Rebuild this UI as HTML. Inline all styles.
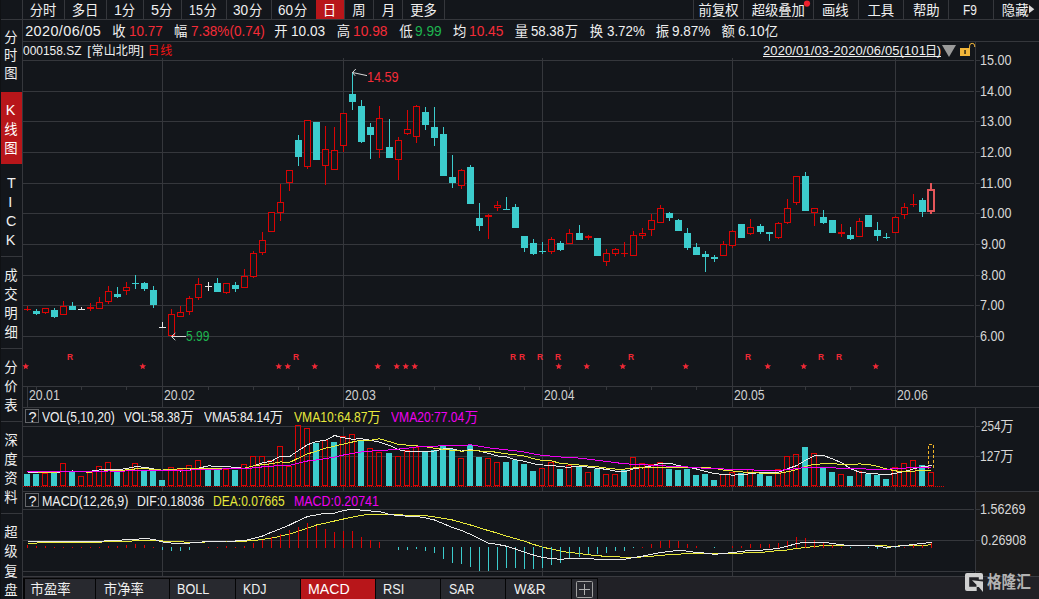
<!DOCTYPE html>
<html lang="zh"><head><meta charset="utf-8"><title>000158.SZ</title>
<style>html,body{margin:0;padding:0;background:#13161b;}
body{width:1039px;height:599px;position:relative;overflow:hidden;font-family:"Liberation Sans","Noto Sans CJK SC",sans-serif;}
#c{position:absolute;left:0;top:0;}
.t{position:absolute;white-space:pre;line-height:1;}
.g{position:absolute;overflow:visible;}</style></head><body>
<svg id="c" width="1039" height="599" viewBox="0 0 1039 599" shape-rendering="crispEdges">
<rect x="0" y="0" width="1" height="599" fill="#0f1114"/>
<rect x="976" y="492" width="63" height="84" fill="#1a1a1b"/>
<rect x="23" y="577" width="1016" height="22" fill="#212126"/>
<rect x="23" y="578" width="575" height="21" fill="#050506"/>
<rect x="1" y="92" width="21" height="72" fill="#b8161a"/>
<rect x="316" y="0" width="28" height="19" fill="#b8161a"/>
<rect x="1" y="19" width="1038" height="1" fill="#35373c"/>
<rect x="22" y="0" width="1" height="599" fill="#35373c"/>
<rect x="23" y="41" width="1016" height="1" fill="#35373c"/>
<rect x="1" y="256" width="21" height="1" fill="#35373c"/>
<rect x="1" y="348" width="21" height="1" fill="#35373c"/>
<rect x="1" y="421" width="21" height="1" fill="#35373c"/>
<rect x="1" y="513" width="21" height="1" fill="#35373c"/>
<rect x="64" y="0" width="1" height="19" fill="#35373c"/>
<rect x="106" y="0" width="1" height="19" fill="#35373c"/>
<rect x="143" y="0" width="1" height="19" fill="#35373c"/>
<rect x="181" y="0" width="1" height="19" fill="#35373c"/>
<rect x="226" y="0" width="1" height="19" fill="#35373c"/>
<rect x="271" y="0" width="1" height="19" fill="#35373c"/>
<rect x="344" y="0" width="1" height="19" fill="#35373c"/>
<rect x="373" y="0" width="1" height="19" fill="#35373c"/>
<rect x="402" y="0" width="1" height="19" fill="#35373c"/>
<rect x="444" y="0" width="1" height="19" fill="#35373c"/>
<rect x="693" y="0" width="1" height="19" fill="#35373c"/>
<rect x="743" y="0" width="1" height="19" fill="#35373c"/>
<rect x="813" y="0" width="1" height="19" fill="#35373c"/>
<rect x="858" y="0" width="1" height="19" fill="#35373c"/>
<rect x="903" y="0" width="1" height="19" fill="#35373c"/>
<rect x="948" y="0" width="1" height="19" fill="#35373c"/>
<rect x="993" y="0" width="1" height="19" fill="#35373c"/>
<rect x="23" y="60" width="951" height="1" fill="#35373c"/>
<rect x="976" y="60" width="4" height="1" fill="#35373c"/>
<rect x="23" y="91" width="951" height="1" fill="#35373c"/>
<rect x="976" y="91" width="4" height="1" fill="#35373c"/>
<rect x="23" y="121" width="951" height="1" fill="#35373c"/>
<rect x="976" y="121" width="4" height="1" fill="#35373c"/>
<rect x="23" y="152" width="951" height="1" fill="#35373c"/>
<rect x="976" y="152" width="4" height="1" fill="#35373c"/>
<rect x="23" y="183" width="951" height="1" fill="#35373c"/>
<rect x="976" y="183" width="4" height="1" fill="#35373c"/>
<rect x="23" y="213" width="951" height="1" fill="#35373c"/>
<rect x="976" y="213" width="4" height="1" fill="#35373c"/>
<rect x="23" y="244" width="951" height="1" fill="#35373c"/>
<rect x="976" y="244" width="4" height="1" fill="#35373c"/>
<rect x="23" y="275" width="951" height="1" fill="#35373c"/>
<rect x="976" y="275" width="4" height="1" fill="#35373c"/>
<rect x="23" y="305" width="951" height="1" fill="#35373c"/>
<rect x="976" y="305" width="4" height="1" fill="#35373c"/>
<rect x="23" y="336" width="951" height="1" fill="#35373c"/>
<rect x="976" y="336" width="4" height="1" fill="#35373c"/>
<rect x="162" y="58" width="1" height="328" fill="#35373c"/>
<rect x="162" y="386" width="1" height="21" fill="#35373c"/>
<rect x="162" y="426" width="1" height="65" fill="#35373c"/>
<rect x="162" y="509" width="1" height="67" fill="#35373c"/>
<rect x="343" y="58" width="1" height="328" fill="#35373c"/>
<rect x="343" y="386" width="1" height="21" fill="#35373c"/>
<rect x="343" y="426" width="1" height="65" fill="#35373c"/>
<rect x="343" y="509" width="1" height="67" fill="#35373c"/>
<rect x="542" y="58" width="1" height="328" fill="#35373c"/>
<rect x="542" y="386" width="1" height="21" fill="#35373c"/>
<rect x="542" y="426" width="1" height="65" fill="#35373c"/>
<rect x="542" y="509" width="1" height="67" fill="#35373c"/>
<rect x="732" y="58" width="1" height="328" fill="#35373c"/>
<rect x="732" y="386" width="1" height="21" fill="#35373c"/>
<rect x="732" y="426" width="1" height="65" fill="#35373c"/>
<rect x="732" y="509" width="1" height="67" fill="#35373c"/>
<rect x="895" y="58" width="1" height="328" fill="#35373c"/>
<rect x="895" y="386" width="1" height="21" fill="#35373c"/>
<rect x="895" y="426" width="1" height="65" fill="#35373c"/>
<rect x="895" y="509" width="1" height="67" fill="#35373c"/>
<rect x="975" y="41" width="1" height="345" fill="#35373c"/>
<rect x="23" y="386" width="1016" height="1" fill="#35373c"/>
<rect x="23" y="407" width="1016" height="1" fill="#35373c"/>
<rect x="975" y="407" width="1" height="169" fill="#35373c"/>
<rect x="23" y="426" width="951" height="1" fill="#35373c"/>
<rect x="976" y="426" width="4" height="1" fill="#35373c"/>
<rect x="23" y="456" width="951" height="1" fill="#35373c"/>
<rect x="976" y="456" width="4" height="1" fill="#35373c"/>
<rect x="23" y="491" width="1016" height="1" fill="#35373c"/>
<rect x="23" y="509" width="951" height="1" fill="#35373c"/>
<rect x="976" y="509" width="4" height="1" fill="#35373c"/>
<rect x="23" y="540" width="951" height="1" fill="#35373c"/>
<rect x="976" y="540" width="4" height="1" fill="#35373c"/>
<rect x="23" y="571" width="951" height="1" fill="#35373c"/>
<rect x="976" y="571" width="4" height="1" fill="#35373c"/>
<rect x="23" y="576" width="1016" height="1" fill="#3a3b40"/>
<rect x="27" y="386" width="1" height="21" fill="#35373c"/>
<rect x="36" y="386" width="1" height="4" fill="#35373c"/>
<rect x="81" y="386" width="1" height="4" fill="#35373c"/>
<rect x="126" y="386" width="1" height="4" fill="#35373c"/>
<rect x="208" y="386" width="1" height="4" fill="#35373c"/>
<rect x="253" y="386" width="1" height="4" fill="#35373c"/>
<rect x="298" y="386" width="1" height="4" fill="#35373c"/>
<rect x="389" y="386" width="1" height="4" fill="#35373c"/>
<rect x="434" y="386" width="1" height="4" fill="#35373c"/>
<rect x="479" y="386" width="1" height="4" fill="#35373c"/>
<rect x="524" y="386" width="1" height="4" fill="#35373c"/>
<rect x="569" y="386" width="1" height="4" fill="#35373c"/>
<rect x="606" y="386" width="1" height="4" fill="#35373c"/>
<rect x="651" y="386" width="1" height="4" fill="#35373c"/>
<rect x="696" y="386" width="1" height="4" fill="#35373c"/>
<rect x="760" y="386" width="1" height="4" fill="#35373c"/>
<rect x="805" y="386" width="1" height="4" fill="#35373c"/>
<rect x="850" y="386" width="1" height="4" fill="#35373c"/>
<rect x="27" y="306" width="1" height="5" fill="#da0404"/>
<rect x="24" y="309" width="7" height="1" fill="#da0404"/>
<rect x="36" y="309" width="1" height="6" fill="#3ccccd"/>
<rect x="33" y="311" width="7" height="3" fill="#3ccccd"/>
<rect x="45" y="313" width="1" height="1" fill="#da0404"/>
<rect x="42.5" y="308.5" width="6" height="4" fill="#13161b" stroke="#da0404" stroke-width="1"/>
<rect x="54" y="308" width="1" height="10" fill="#3ccccd"/>
<rect x="51" y="310" width="7" height="7" fill="#3ccccd"/>
<rect x="63" y="301" width="1" height="5" fill="#da0404"/>
<rect x="60.5" y="306.5" width="6" height="8" fill="#13161b" stroke="#da0404" stroke-width="1"/>
<rect x="72" y="302" width="1" height="8" fill="#3ccccd"/>
<rect x="69" y="306" width="7" height="4" fill="#3ccccd"/>
<rect x="81" y="307" width="1" height="3" fill="#e8e8e8"/>
<rect x="78" y="309" width="7" height="1" fill="#e8e8e8"/>
<rect x="90" y="303" width="1" height="8" fill="#da0404"/>
<rect x="87" y="307" width="7" height="2" fill="#da0404"/>
<rect x="99" y="297" width="1" height="5" fill="#da0404"/>
<rect x="96.5" y="302.5" width="6" height="6" fill="#13161b" stroke="#da0404" stroke-width="1"/>
<rect x="108" y="286" width="1" height="5" fill="#da0404"/>
<rect x="108" y="302" width="1" height="2" fill="#da0404"/>
<rect x="105.5" y="291.5" width="6" height="10" fill="#13161b" stroke="#da0404" stroke-width="1"/>
<rect x="117" y="287" width="1" height="11" fill="#3ccccd"/>
<rect x="114" y="294" width="7" height="3" fill="#3ccccd"/>
<rect x="126" y="282" width="1" height="5" fill="#da0404"/>
<rect x="126" y="291" width="1" height="4" fill="#da0404"/>
<rect x="123.5" y="287.5" width="6" height="3" fill="#13161b" stroke="#da0404" stroke-width="1"/>
<rect x="135" y="275" width="1" height="14" fill="#3ccccd"/>
<rect x="132" y="283" width="7" height="1" fill="#3ccccd"/>
<rect x="144" y="282" width="1" height="9" fill="#3ccccd"/>
<rect x="141" y="283" width="7" height="6" fill="#3ccccd"/>
<rect x="153" y="286" width="1" height="22" fill="#3ccccd"/>
<rect x="150" y="290" width="7" height="15" fill="#3ccccd"/>
<rect x="162" y="322" width="1" height="6" fill="#e8e8e8"/>
<rect x="159" y="327" width="7" height="1" fill="#e8e8e8"/>
<rect x="171" y="309" width="1" height="5" fill="#da0404"/>
<rect x="168.5" y="314.5" width="6" height="21" fill="#13161b" stroke="#da0404" stroke-width="1"/>
<rect x="180" y="306" width="1" height="6" fill="#da0404"/>
<rect x="177.5" y="312.5" width="6" height="4" fill="#13161b" stroke="#da0404" stroke-width="1"/>
<rect x="189" y="296" width="1" height="2" fill="#da0404"/>
<rect x="189" y="312" width="1" height="3" fill="#da0404"/>
<rect x="186.5" y="298.5" width="6" height="13" fill="#13161b" stroke="#da0404" stroke-width="1"/>
<rect x="198" y="278" width="1" height="6" fill="#da0404"/>
<rect x="198" y="298" width="1" height="2" fill="#da0404"/>
<rect x="195.5" y="284.5" width="6" height="13" fill="#13161b" stroke="#da0404" stroke-width="1"/>
<rect x="208" y="282" width="1" height="9" fill="#e8e8e8"/>
<rect x="205" y="286" width="7" height="1" fill="#e8e8e8"/>
<rect x="217" y="278" width="1" height="14" fill="#3ccccd"/>
<rect x="214" y="283" width="7" height="9" fill="#3ccccd"/>
<rect x="226" y="293" width="1" height="1" fill="#da0404"/>
<rect x="223.5" y="283.5" width="6" height="9" fill="#13161b" stroke="#da0404" stroke-width="1"/>
<rect x="235" y="282" width="1" height="10" fill="#3ccccd"/>
<rect x="232" y="285" width="7" height="4" fill="#3ccccd"/>
<rect x="244" y="269" width="1" height="7" fill="#da0404"/>
<rect x="241.5" y="276.5" width="6" height="11" fill="#13161b" stroke="#da0404" stroke-width="1"/>
<rect x="253" y="251" width="1" height="2" fill="#da0404"/>
<rect x="253" y="277" width="1" height="1" fill="#da0404"/>
<rect x="250.5" y="253.5" width="6" height="23" fill="#13161b" stroke="#da0404" stroke-width="1"/>
<rect x="262" y="232" width="1" height="8" fill="#da0404"/>
<rect x="262" y="253" width="1" height="2" fill="#da0404"/>
<rect x="259.5" y="240.5" width="6" height="12" fill="#13161b" stroke="#da0404" stroke-width="1"/>
<rect x="268.5" y="212.5" width="6" height="19" fill="#13161b" stroke="#da0404" stroke-width="1"/>
<rect x="280" y="184" width="1" height="18" fill="#da0404"/>
<rect x="280" y="213" width="1" height="8" fill="#da0404"/>
<rect x="277.5" y="202.5" width="6" height="10" fill="#13161b" stroke="#da0404" stroke-width="1"/>
<rect x="289" y="183" width="1" height="8" fill="#da0404"/>
<rect x="286.5" y="170.5" width="6" height="12" fill="#13161b" stroke="#da0404" stroke-width="1"/>
<rect x="298" y="135" width="1" height="31" fill="#3ccccd"/>
<rect x="295" y="140" width="7" height="17" fill="#3ccccd"/>
<rect x="307" y="167" width="1" height="2" fill="#da0404"/>
<rect x="304.5" y="120.5" width="6" height="46" fill="#13161b" stroke="#da0404" stroke-width="1"/>
<rect x="316" y="122" width="1" height="38" fill="#3ccccd"/>
<rect x="313" y="122" width="7" height="38" fill="#3ccccd"/>
<rect x="325" y="126" width="1" height="23" fill="#da0404"/>
<rect x="325" y="166" width="1" height="19" fill="#da0404"/>
<rect x="322.5" y="149.5" width="6" height="16" fill="#13161b" stroke="#da0404" stroke-width="1"/>
<rect x="334" y="127" width="1" height="23" fill="#da0404"/>
<rect x="331.5" y="150.5" width="6" height="19" fill="#13161b" stroke="#da0404" stroke-width="1"/>
<rect x="343" y="146" width="1" height="6" fill="#da0404"/>
<rect x="340.5" y="113.5" width="6" height="32" fill="#13161b" stroke="#da0404" stroke-width="1"/>
<rect x="352" y="72" width="1" height="38" fill="#3ccccd"/>
<rect x="349" y="94" width="7" height="8" fill="#3ccccd"/>
<rect x="361" y="100" width="1" height="43" fill="#3ccccd"/>
<rect x="358" y="106" width="7" height="36" fill="#3ccccd"/>
<rect x="370" y="123" width="1" height="36" fill="#3ccccd"/>
<rect x="367" y="127" width="7" height="8" fill="#3ccccd"/>
<rect x="379" y="106" width="1" height="12" fill="#da0404"/>
<rect x="379" y="150" width="1" height="8" fill="#da0404"/>
<rect x="376.5" y="118.5" width="6" height="31" fill="#13161b" stroke="#da0404" stroke-width="1"/>
<rect x="389" y="119" width="1" height="39" fill="#3ccccd"/>
<rect x="386" y="147" width="7" height="11" fill="#3ccccd"/>
<rect x="398" y="137" width="1" height="3" fill="#da0404"/>
<rect x="398" y="160" width="1" height="20" fill="#da0404"/>
<rect x="395.5" y="140.5" width="6" height="19" fill="#13161b" stroke="#da0404" stroke-width="1"/>
<rect x="407" y="110" width="1" height="19" fill="#da0404"/>
<rect x="407" y="134" width="1" height="1" fill="#da0404"/>
<rect x="404.5" y="129.5" width="6" height="4" fill="#13161b" stroke="#da0404" stroke-width="1"/>
<rect x="416" y="105" width="1" height="1" fill="#da0404"/>
<rect x="416" y="137" width="1" height="6" fill="#da0404"/>
<rect x="413.5" y="106.5" width="6" height="30" fill="#13161b" stroke="#da0404" stroke-width="1"/>
<rect x="425" y="107" width="1" height="23" fill="#3ccccd"/>
<rect x="422" y="112" width="7" height="13" fill="#3ccccd"/>
<rect x="434" y="107" width="1" height="39" fill="#3ccccd"/>
<rect x="431" y="127" width="7" height="11" fill="#3ccccd"/>
<rect x="443" y="127" width="1" height="49" fill="#3ccccd"/>
<rect x="440" y="134" width="7" height="42" fill="#3ccccd"/>
<rect x="452" y="155" width="1" height="33" fill="#3ccccd"/>
<rect x="449" y="177" width="7" height="6" fill="#3ccccd"/>
<rect x="461" y="169" width="1" height="1" fill="#da0404"/>
<rect x="461" y="186" width="1" height="3" fill="#da0404"/>
<rect x="458.5" y="170.5" width="6" height="15" fill="#13161b" stroke="#da0404" stroke-width="1"/>
<rect x="470" y="165" width="1" height="39" fill="#3ccccd"/>
<rect x="467" y="167" width="7" height="37" fill="#3ccccd"/>
<rect x="479" y="203" width="1" height="28" fill="#3ccccd"/>
<rect x="476" y="218" width="7" height="8" fill="#3ccccd"/>
<rect x="488" y="214" width="1" height="25" fill="#da0404"/>
<rect x="485" y="215" width="7" height="2" fill="#da0404"/>
<rect x="497" y="201" width="1" height="4" fill="#da0404"/>
<rect x="497" y="208" width="1" height="3" fill="#da0404"/>
<rect x="494.5" y="205.5" width="6" height="2" fill="#13161b" stroke="#da0404" stroke-width="1"/>
<rect x="506" y="197" width="1" height="13" fill="#3ccccd"/>
<rect x="503" y="209" width="7" height="1" fill="#3ccccd"/>
<rect x="515" y="204" width="1" height="24" fill="#3ccccd"/>
<rect x="512" y="207" width="7" height="21" fill="#3ccccd"/>
<rect x="524" y="236" width="1" height="16" fill="#3ccccd"/>
<rect x="521" y="236" width="7" height="12" fill="#3ccccd"/>
<rect x="533" y="239" width="1" height="16" fill="#3ccccd"/>
<rect x="530" y="243" width="7" height="11" fill="#3ccccd"/>
<rect x="542" y="242" width="1" height="12" fill="#3ccccd"/>
<rect x="539" y="251" width="7" height="1" fill="#3ccccd"/>
<rect x="551" y="237" width="1" height="2" fill="#da0404"/>
<rect x="551" y="252" width="1" height="2" fill="#da0404"/>
<rect x="548.5" y="239.5" width="6" height="12" fill="#13161b" stroke="#da0404" stroke-width="1"/>
<rect x="560" y="241" width="1" height="10" fill="#3ccccd"/>
<rect x="557" y="243" width="7" height="7" fill="#3ccccd"/>
<rect x="569" y="229" width="1" height="4" fill="#da0404"/>
<rect x="566.5" y="233.5" width="6" height="10" fill="#13161b" stroke="#da0404" stroke-width="1"/>
<rect x="579" y="225" width="1" height="15" fill="#3ccccd"/>
<rect x="576" y="233" width="7" height="7" fill="#3ccccd"/>
<rect x="588" y="235" width="1" height="5" fill="#da0404"/>
<rect x="585" y="236" width="7" height="2" fill="#da0404"/>
<rect x="597" y="238" width="1" height="18" fill="#3ccccd"/>
<rect x="594" y="238" width="7" height="18" fill="#3ccccd"/>
<rect x="606" y="249" width="1" height="4" fill="#da0404"/>
<rect x="606" y="262" width="1" height="4" fill="#da0404"/>
<rect x="603.5" y="253.5" width="6" height="8" fill="#13161b" stroke="#da0404" stroke-width="1"/>
<rect x="615" y="248" width="1" height="1" fill="#da0404"/>
<rect x="615" y="254" width="1" height="2" fill="#da0404"/>
<rect x="612.5" y="249.5" width="6" height="4" fill="#13161b" stroke="#da0404" stroke-width="1"/>
<rect x="624" y="242" width="1" height="15" fill="#da0404"/>
<rect x="621" y="253" width="7" height="1" fill="#da0404"/>
<rect x="633" y="231" width="1" height="4" fill="#da0404"/>
<rect x="630.5" y="235.5" width="6" height="20" fill="#13161b" stroke="#da0404" stroke-width="1"/>
<rect x="642" y="228" width="1" height="5" fill="#da0404"/>
<rect x="642" y="236" width="1" height="3" fill="#da0404"/>
<rect x="639.5" y="233.5" width="6" height="2" fill="#13161b" stroke="#da0404" stroke-width="1"/>
<rect x="651" y="214" width="1" height="6" fill="#da0404"/>
<rect x="651" y="230" width="1" height="6" fill="#da0404"/>
<rect x="648.5" y="220.5" width="6" height="9" fill="#13161b" stroke="#da0404" stroke-width="1"/>
<rect x="660" y="205" width="1" height="3" fill="#da0404"/>
<rect x="657.5" y="208.5" width="6" height="14" fill="#13161b" stroke="#da0404" stroke-width="1"/>
<rect x="669" y="212" width="1" height="9" fill="#3ccccd"/>
<rect x="666" y="213" width="7" height="5" fill="#3ccccd"/>
<rect x="678" y="219" width="1" height="12" fill="#3ccccd"/>
<rect x="675" y="220" width="7" height="11" fill="#3ccccd"/>
<rect x="687" y="228" width="1" height="22" fill="#3ccccd"/>
<rect x="684" y="233" width="7" height="15" fill="#3ccccd"/>
<rect x="696" y="243" width="1" height="12" fill="#3ccccd"/>
<rect x="693" y="247" width="7" height="8" fill="#3ccccd"/>
<rect x="705" y="251" width="1" height="21" fill="#3ccccd"/>
<rect x="702" y="254" width="7" height="3" fill="#3ccccd"/>
<rect x="714" y="255" width="1" height="7" fill="#3ccccd"/>
<rect x="711" y="257" width="7" height="2" fill="#3ccccd"/>
<rect x="723" y="241" width="1" height="3" fill="#da0404"/>
<rect x="720.5" y="244.5" width="6" height="11" fill="#13161b" stroke="#da0404" stroke-width="1"/>
<rect x="732" y="230" width="1" height="1" fill="#da0404"/>
<rect x="732" y="246" width="1" height="2" fill="#da0404"/>
<rect x="729.5" y="231.5" width="6" height="14" fill="#13161b" stroke="#da0404" stroke-width="1"/>
<rect x="741" y="224" width="1" height="14" fill="#3ccccd"/>
<rect x="738" y="224" width="7" height="14" fill="#3ccccd"/>
<rect x="750" y="219" width="1" height="8" fill="#da0404"/>
<rect x="750" y="234" width="1" height="1" fill="#da0404"/>
<rect x="747.5" y="227.5" width="6" height="6" fill="#13161b" stroke="#da0404" stroke-width="1"/>
<rect x="760" y="224" width="1" height="10" fill="#3ccccd"/>
<rect x="757" y="226" width="7" height="6" fill="#3ccccd"/>
<rect x="769" y="232" width="1" height="9" fill="#3ccccd"/>
<rect x="766" y="232" width="7" height="2" fill="#3ccccd"/>
<rect x="778" y="222" width="1" height="1" fill="#da0404"/>
<rect x="778" y="238" width="1" height="1" fill="#da0404"/>
<rect x="775.5" y="223.5" width="6" height="14" fill="#13161b" stroke="#da0404" stroke-width="1"/>
<rect x="787" y="199" width="1" height="9" fill="#da0404"/>
<rect x="787" y="223" width="1" height="1" fill="#da0404"/>
<rect x="784.5" y="208.5" width="6" height="14" fill="#13161b" stroke="#da0404" stroke-width="1"/>
<rect x="796" y="203" width="1" height="2" fill="#da0404"/>
<rect x="793.5" y="176.5" width="6" height="26" fill="#13161b" stroke="#da0404" stroke-width="1"/>
<rect x="805" y="172" width="1" height="39" fill="#3ccccd"/>
<rect x="802" y="176" width="7" height="35" fill="#3ccccd"/>
<rect x="814" y="213" width="1" height="13" fill="#da0404"/>
<rect x="811.5" y="208.5" width="6" height="4" fill="#13161b" stroke="#da0404" stroke-width="1"/>
<rect x="823" y="210" width="1" height="14" fill="#3ccccd"/>
<rect x="820" y="217" width="7" height="6" fill="#3ccccd"/>
<rect x="832" y="220" width="1" height="13" fill="#3ccccd"/>
<rect x="829" y="220" width="7" height="13" fill="#3ccccd"/>
<rect x="841" y="224" width="1" height="13" fill="#da0404"/>
<rect x="838" y="232" width="7" height="2" fill="#da0404"/>
<rect x="850" y="227" width="1" height="13" fill="#3ccccd"/>
<rect x="847" y="235" width="7" height="4" fill="#3ccccd"/>
<rect x="859" y="218" width="1" height="3" fill="#da0404"/>
<rect x="856.5" y="221.5" width="6" height="15" fill="#13161b" stroke="#da0404" stroke-width="1"/>
<rect x="868" y="215" width="1" height="12" fill="#3ccccd"/>
<rect x="865" y="215" width="7" height="12" fill="#3ccccd"/>
<rect x="877" y="222" width="1" height="19" fill="#3ccccd"/>
<rect x="874" y="230" width="7" height="6" fill="#3ccccd"/>
<rect x="886" y="233" width="1" height="6" fill="#3ccccd"/>
<rect x="883" y="237" width="7" height="1" fill="#3ccccd"/>
<rect x="895" y="216" width="1" height="1" fill="#da0404"/>
<rect x="892.5" y="217.5" width="6" height="15" fill="#13161b" stroke="#da0404" stroke-width="1"/>
<rect x="904" y="203" width="1" height="4" fill="#da0404"/>
<rect x="904" y="215" width="1" height="4" fill="#da0404"/>
<rect x="901.5" y="207.5" width="6" height="7" fill="#13161b" stroke="#da0404" stroke-width="1"/>
<rect x="913" y="194" width="1" height="13" fill="#da0404"/>
<rect x="910" y="204" width="7" height="1" fill="#da0404"/>
<rect x="922" y="198" width="1" height="19" fill="#3ccccd"/>
<rect x="919" y="200" width="7" height="12" fill="#3ccccd"/>
<rect x="930" y="183" width="2" height="6" fill="#e4565a"/>
<rect x="930" y="212" width="2" height="2" fill="#e4565a"/>
<rect x="928" y="190" width="6" height="21" fill="#13161b" stroke="#e4565a" stroke-width="2"/>
<polygon points="25.75,362.90 26.68,365.13 29.08,365.32 27.25,366.89 27.81,369.23 25.75,367.97 23.69,369.23 24.25,366.89 22.42,365.32 24.82,365.13" fill="#f02835" shape-rendering="geometricPrecision"/>
<polygon points="142.75,362.90 143.68,365.13 146.08,365.32 144.25,366.89 144.81,369.23 142.75,367.97 140.69,369.23 141.25,366.89 139.42,365.32 141.82,365.13" fill="#f02835" shape-rendering="geometricPrecision"/>
<polygon points="278.75,362.90 279.68,365.13 282.08,365.32 280.25,366.89 280.81,369.23 278.75,367.97 276.69,369.23 277.25,366.89 275.42,365.32 277.82,365.13" fill="#f02835" shape-rendering="geometricPrecision"/>
<polygon points="287.75,362.90 288.68,365.13 291.08,365.32 289.25,366.89 289.81,369.23 287.75,367.97 285.69,369.23 286.25,366.89 284.42,365.32 286.82,365.13" fill="#f02835" shape-rendering="geometricPrecision"/>
<polygon points="314.75,362.90 315.68,365.13 318.08,365.32 316.25,366.89 316.81,369.23 314.75,367.97 312.69,369.23 313.25,366.89 311.42,365.32 313.82,365.13" fill="#f02835" shape-rendering="geometricPrecision"/>
<polygon points="377.75,362.90 378.68,365.13 381.08,365.32 379.25,366.89 379.81,369.23 377.75,367.97 375.69,369.23 376.25,366.89 374.42,365.32 376.82,365.13" fill="#f02835" shape-rendering="geometricPrecision"/>
<polygon points="396.75,362.90 397.68,365.13 400.08,365.32 398.25,366.89 398.81,369.23 396.75,367.97 394.69,369.23 395.25,366.89 393.42,365.32 395.82,365.13" fill="#f02835" shape-rendering="geometricPrecision"/>
<polygon points="405.75,362.90 406.68,365.13 409.08,365.32 407.25,366.89 407.81,369.23 405.75,367.97 403.69,369.23 404.25,366.89 402.42,365.32 404.82,365.13" fill="#f02835" shape-rendering="geometricPrecision"/>
<polygon points="414.75,362.90 415.68,365.13 418.08,365.32 416.25,366.89 416.81,369.23 414.75,367.97 412.69,369.23 413.25,366.89 411.42,365.32 413.82,365.13" fill="#f02835" shape-rendering="geometricPrecision"/>
<polygon points="558.75,362.90 559.68,365.13 562.08,365.32 560.25,366.89 560.81,369.23 558.75,367.97 556.69,369.23 557.25,366.89 555.42,365.32 557.82,365.13" fill="#f02835" shape-rendering="geometricPrecision"/>
<polygon points="586.75,362.90 587.68,365.13 590.08,365.32 588.25,366.89 588.81,369.23 586.75,367.97 584.69,369.23 585.25,366.89 583.42,365.32 585.82,365.13" fill="#f02835" shape-rendering="geometricPrecision"/>
<polygon points="622.75,362.90 623.68,365.13 626.08,365.32 624.25,366.89 624.81,369.23 622.75,367.97 620.69,369.23 621.25,366.89 619.42,365.32 621.82,365.13" fill="#f02835" shape-rendering="geometricPrecision"/>
<polygon points="685.75,362.90 686.68,365.13 689.08,365.32 687.25,366.89 687.81,369.23 685.75,367.97 683.69,369.23 684.25,366.89 682.42,365.32 684.82,365.13" fill="#f02835" shape-rendering="geometricPrecision"/>
<polygon points="767.75,362.90 768.68,365.13 771.08,365.32 769.25,366.89 769.81,369.23 767.75,367.97 765.69,369.23 766.25,366.89 764.42,365.32 766.82,365.13" fill="#f02835" shape-rendering="geometricPrecision"/>
<polygon points="803.75,362.90 804.68,365.13 807.08,365.32 805.25,366.89 805.81,369.23 803.75,367.97 801.69,369.23 802.25,366.89 800.42,365.32 802.82,365.13" fill="#f02835" shape-rendering="geometricPrecision"/>
<polygon points="875.75,362.90 876.68,365.13 879.08,365.32 877.25,366.89 877.81,369.23 875.75,367.97 873.69,369.23 874.25,366.89 872.42,365.32 874.82,365.13" fill="#f02835" shape-rendering="geometricPrecision"/>
<line x1="23" y1="486.5" x2="944" y2="486.5" stroke="#da0404" stroke-width="1" stroke-dasharray="1 1"/>
<rect x="24" y="474" width="6" height="12" fill="#3ccccd"/>
<rect x="33" y="474" width="6" height="12" fill="#3ccccd"/>
<rect x="42.5" y="473.5" width="5" height="12" fill="none" stroke="#da0404" stroke-width="1"/>
<rect x="51" y="472" width="6" height="14" fill="#3ccccd"/>
<rect x="60.5" y="463.5" width="5" height="22" fill="none" stroke="#da0404" stroke-width="1"/>
<rect x="69" y="472" width="6" height="14" fill="#3ccccd"/>
<rect x="78.5" y="476.5" width="5" height="9" fill="none" stroke="#da0404" stroke-width="1"/>
<rect x="87.5" y="472.5" width="5" height="13" fill="none" stroke="#da0404" stroke-width="1"/>
<rect x="96.5" y="466.5" width="5" height="19" fill="none" stroke="#da0404" stroke-width="1"/>
<rect x="105.5" y="462.5" width="5" height="23" fill="none" stroke="#da0404" stroke-width="1"/>
<rect x="114" y="472" width="6" height="14" fill="#3ccccd"/>
<rect x="123.5" y="470.5" width="5" height="15" fill="none" stroke="#da0404" stroke-width="1"/>
<rect x="132.5" y="463.5" width="5" height="22" fill="none" stroke="#da0404" stroke-width="1"/>
<rect x="141" y="470" width="6" height="16" fill="#3ccccd"/>
<rect x="150" y="470" width="6" height="16" fill="#3ccccd"/>
<rect x="159" y="480" width="6" height="6" fill="#3ccccd"/>
<rect x="168.5" y="467.5" width="5" height="18" fill="none" stroke="#da0404" stroke-width="1"/>
<rect x="177.5" y="469.5" width="5" height="16" fill="none" stroke="#da0404" stroke-width="1"/>
<rect x="186.5" y="465.5" width="5" height="20" fill="none" stroke="#da0404" stroke-width="1"/>
<rect x="195.5" y="460.5" width="5" height="25" fill="none" stroke="#da0404" stroke-width="1"/>
<rect x="205" y="468" width="6" height="18" fill="#3ccccd"/>
<rect x="214" y="470" width="6" height="16" fill="#3ccccd"/>
<rect x="223.5" y="469.5" width="5" height="16" fill="none" stroke="#da0404" stroke-width="1"/>
<rect x="232" y="470" width="6" height="16" fill="#3ccccd"/>
<rect x="241.5" y="464.5" width="5" height="21" fill="none" stroke="#da0404" stroke-width="1"/>
<rect x="250.5" y="456.5" width="5" height="29" fill="none" stroke="#da0404" stroke-width="1"/>
<rect x="259.5" y="456.5" width="5" height="29" fill="none" stroke="#da0404" stroke-width="1"/>
<rect x="268.5" y="460.5" width="5" height="25" fill="none" stroke="#da0404" stroke-width="1"/>
<rect x="277.5" y="446.5" width="5" height="39" fill="none" stroke="#da0404" stroke-width="1"/>
<rect x="286.5" y="466.5" width="5" height="19" fill="none" stroke="#da0404" stroke-width="1"/>
<rect x="295.5" y="425.5" width="5" height="60" fill="none" stroke="#da0404" stroke-width="1"/>
<rect x="304.5" y="428.5" width="5" height="57" fill="none" stroke="#da0404" stroke-width="1"/>
<rect x="313" y="443" width="6" height="43" fill="#3ccccd"/>
<rect x="322.5" y="440.5" width="5" height="45" fill="none" stroke="#da0404" stroke-width="1"/>
<rect x="331" y="442" width="6" height="44" fill="#3ccccd"/>
<rect x="340.5" y="436.5" width="5" height="49" fill="none" stroke="#da0404" stroke-width="1"/>
<rect x="349.5" y="434.5" width="5" height="51" fill="none" stroke="#da0404" stroke-width="1"/>
<rect x="358" y="440" width="6" height="46" fill="#3ccccd"/>
<rect x="367.5" y="448.5" width="5" height="37" fill="none" stroke="#da0404" stroke-width="1"/>
<rect x="376.5" y="452.5" width="5" height="33" fill="none" stroke="#da0404" stroke-width="1"/>
<rect x="386" y="453" width="6" height="33" fill="#3ccccd"/>
<rect x="395.5" y="456.5" width="5" height="29" fill="none" stroke="#da0404" stroke-width="1"/>
<rect x="404.5" y="450.5" width="5" height="35" fill="none" stroke="#da0404" stroke-width="1"/>
<rect x="413.5" y="447.5" width="5" height="38" fill="none" stroke="#da0404" stroke-width="1"/>
<rect x="422" y="452" width="6" height="34" fill="#3ccccd"/>
<rect x="431" y="450" width="6" height="36" fill="#3ccccd"/>
<rect x="440" y="446" width="6" height="40" fill="#3ccccd"/>
<rect x="449" y="449" width="6" height="37" fill="#3ccccd"/>
<rect x="458.5" y="458.5" width="5" height="27" fill="none" stroke="#da0404" stroke-width="1"/>
<rect x="467" y="445" width="6" height="41" fill="#3ccccd"/>
<rect x="476" y="457" width="6" height="29" fill="#3ccccd"/>
<rect x="485.5" y="458.5" width="5" height="27" fill="none" stroke="#da0404" stroke-width="1"/>
<rect x="494.5" y="462.5" width="5" height="23" fill="none" stroke="#da0404" stroke-width="1"/>
<rect x="503" y="462" width="6" height="24" fill="#3ccccd"/>
<rect x="512" y="460" width="6" height="26" fill="#3ccccd"/>
<rect x="521" y="464" width="6" height="22" fill="#3ccccd"/>
<rect x="530" y="471" width="6" height="15" fill="#3ccccd"/>
<rect x="539.5" y="468.5" width="5" height="17" fill="none" stroke="#da0404" stroke-width="1"/>
<rect x="548.5" y="462.5" width="5" height="23" fill="none" stroke="#da0404" stroke-width="1"/>
<rect x="557" y="469" width="6" height="17" fill="#3ccccd"/>
<rect x="566.5" y="465.5" width="5" height="20" fill="none" stroke="#da0404" stroke-width="1"/>
<rect x="576" y="467" width="6" height="19" fill="#3ccccd"/>
<rect x="585.5" y="472.5" width="5" height="13" fill="none" stroke="#da0404" stroke-width="1"/>
<rect x="594" y="469" width="6" height="17" fill="#3ccccd"/>
<rect x="603.5" y="474.5" width="5" height="11" fill="none" stroke="#da0404" stroke-width="1"/>
<rect x="612.5" y="474.5" width="5" height="11" fill="none" stroke="#da0404" stroke-width="1"/>
<rect x="621" y="470" width="6" height="16" fill="#3ccccd"/>
<rect x="630.5" y="457.5" width="5" height="28" fill="none" stroke="#da0404" stroke-width="1"/>
<rect x="639.5" y="463.5" width="5" height="22" fill="none" stroke="#da0404" stroke-width="1"/>
<rect x="648.5" y="464.5" width="5" height="21" fill="none" stroke="#da0404" stroke-width="1"/>
<rect x="657.5" y="462.5" width="5" height="23" fill="none" stroke="#da0404" stroke-width="1"/>
<rect x="666" y="469" width="6" height="17" fill="#3ccccd"/>
<rect x="675" y="470" width="6" height="16" fill="#3ccccd"/>
<rect x="684" y="469" width="6" height="17" fill="#3ccccd"/>
<rect x="693" y="475" width="6" height="11" fill="#3ccccd"/>
<rect x="702" y="474" width="6" height="12" fill="#3ccccd"/>
<rect x="711" y="480" width="6" height="6" fill="#3ccccd"/>
<rect x="720.5" y="474.5" width="5" height="11" fill="none" stroke="#da0404" stroke-width="1"/>
<rect x="729.5" y="472.5" width="5" height="13" fill="none" stroke="#da0404" stroke-width="1"/>
<rect x="738" y="473" width="6" height="13" fill="#3ccccd"/>
<rect x="747.5" y="469.5" width="5" height="16" fill="none" stroke="#da0404" stroke-width="1"/>
<rect x="757" y="474" width="6" height="12" fill="#3ccccd"/>
<rect x="766" y="476" width="6" height="10" fill="#3ccccd"/>
<rect x="775.5" y="469.5" width="5" height="16" fill="none" stroke="#da0404" stroke-width="1"/>
<rect x="784.5" y="456.5" width="5" height="29" fill="none" stroke="#da0404" stroke-width="1"/>
<rect x="793.5" y="454.5" width="5" height="31" fill="none" stroke="#da0404" stroke-width="1"/>
<rect x="802" y="447" width="6" height="39" fill="#3ccccd"/>
<rect x="811.5" y="453.5" width="5" height="32" fill="none" stroke="#da0404" stroke-width="1"/>
<rect x="820" y="468" width="6" height="18" fill="#3ccccd"/>
<rect x="829" y="472" width="6" height="14" fill="#3ccccd"/>
<rect x="838.5" y="474.5" width="5" height="11" fill="none" stroke="#da0404" stroke-width="1"/>
<rect x="847" y="476" width="6" height="10" fill="#3ccccd"/>
<rect x="856.5" y="471.5" width="5" height="14" fill="none" stroke="#da0404" stroke-width="1"/>
<rect x="865" y="474" width="6" height="12" fill="#3ccccd"/>
<rect x="874" y="475" width="6" height="11" fill="#3ccccd"/>
<rect x="883" y="479" width="6" height="7" fill="#3ccccd"/>
<rect x="892.5" y="467.5" width="5" height="18" fill="none" stroke="#da0404" stroke-width="1"/>
<rect x="901.5" y="463.5" width="5" height="22" fill="none" stroke="#da0404" stroke-width="1"/>
<rect x="910.5" y="460.5" width="5" height="25" fill="none" stroke="#da0404" stroke-width="1"/>
<rect x="919" y="465" width="6" height="21" fill="#3ccccd"/>
<rect x="928.5" y="472.5" width="5" height="13" fill="none" stroke="#da0404" stroke-width="1"/>
<path d="M928.5 469V444.5H933.5V470" fill="none" stroke="#f0b428" stroke-width="1" stroke-dasharray="3 2"/>
<polyline points="27.5,472.0 36.5,472.5 45.5,472.8 54.5,473.0 63.5,471.3 72.5,471.0 81.5,471.4 90.5,471.3 99.5,470.0 108.5,469.8 117.5,469.7 126.5,468.5 135.5,466.6 144.5,467.3 153.5,468.9 162.5,470.5 171.5,469.9 180.5,471.1 189.5,470.2 198.5,468.2 208.5,465.8 217.5,466.5 226.5,466.5 235.5,467.5 244.5,468.3 253.5,465.8 262.5,462.9 271.5,461.1 280.5,456.2 289.5,456.6 298.5,450.5 307.5,444.8 316.5,441.4 325.5,440.3 334.5,435.5 343.5,437.8 352.5,439.2 361.5,438.7 370.5,440.2 379.5,442.1 389.5,445.4 398.5,449.7 407.5,451.5 416.5,451.4 425.5,451.5 434.5,451.0 443.5,449.0 452.5,448.9 461.5,451.1 470.5,449.7 479.5,451.0 488.5,453.4 497.5,456.0 506.5,456.8 515.5,459.8 524.5,461.2 533.5,463.8 542.5,465.0 551.5,465.1 560.5,466.9 569.5,467.1 579.5,466.3 588.5,467.1 597.5,468.4 606.5,469.3 615.5,471.1 624.5,471.8 633.5,468.8 642.5,467.6 651.5,465.8 660.5,463.4 669.5,463.1 678.5,465.7 687.5,466.9 696.5,469.0 705.5,471.4 714.5,473.6 723.5,474.5 732.5,475.1 741.5,474.7 750.5,473.7 760.5,472.5 769.5,472.8 778.5,472.2 787.5,468.7 796.5,465.7 805.5,460.3 814.5,455.7 823.5,455.5 832.5,458.8 841.5,462.8 850.5,468.6 859.5,472.2 868.5,473.4 877.5,474.0 886.5,475.0 895.5,473.2 904.5,471.6 913.5,468.8 922.5,466.8 931.5,465.4" fill="none" stroke="#e8e8e8" stroke-width="1"/>
<polyline points="27.5,471.8 36.5,472.0 45.5,472.1 54.5,472.2 63.5,471.4 72.5,471.5 81.5,471.9 90.5,472.1 99.5,471.5 108.5,470.6 117.5,470.4 126.5,469.9 135.5,468.9 144.5,468.6 153.5,469.4 162.5,470.1 171.5,469.2 180.5,468.9 189.5,468.8 198.5,468.6 208.5,468.1 217.5,468.2 226.5,468.8 235.5,468.9 244.5,468.2 253.5,465.8 262.5,464.7 271.5,463.8 280.5,461.9 289.5,462.4 298.5,458.1 307.5,453.9 316.5,451.2 325.5,448.2 334.5,446.1 343.5,444.1 352.5,442.0 361.5,440.1 370.5,440.2 379.5,438.8 389.5,441.6 398.5,444.4 407.5,445.1 416.5,445.8 425.5,446.8 434.5,448.2 443.5,449.4 452.5,450.2 461.5,451.2 470.5,450.6 479.5,451.0 488.5,451.2 497.5,452.4 506.5,453.9 515.5,454.8 524.5,456.1 533.5,458.6 542.5,460.5 551.5,460.9 560.5,463.4 569.5,464.1 579.5,465.1 588.5,466.1 597.5,466.8 606.5,468.1 615.5,469.1 624.5,469.1 633.5,467.9 642.5,468.0 651.5,467.6 660.5,467.2 669.5,467.4 678.5,467.2 687.5,467.2 696.5,467.4 705.5,467.4 714.5,468.4 723.5,470.1 732.5,471.0 741.5,471.9 750.5,472.6 760.5,473.1 769.5,473.6 778.5,473.6 787.5,471.7 796.5,469.7 805.5,466.4 814.5,464.2 823.5,463.9 832.5,463.8 841.5,464.2 850.5,464.4 859.5,463.9 868.5,464.4 877.5,466.4 886.5,468.9 895.5,470.9 904.5,471.9 913.5,471.1 922.5,470.4 931.5,470.2" fill="none" stroke="#e8e83c" stroke-width="1"/>
<polyline points="27.5,471.6 36.5,471.8 45.5,471.8 54.5,471.9 63.5,471.4 72.5,471.5 81.5,471.7 90.5,471.8 99.5,471.5 108.5,471.0 117.5,471.1 126.5,471.0 135.5,470.6 144.5,470.4 153.5,470.4 162.5,470.8 171.5,470.6 180.5,470.4 189.5,470.1 198.5,469.6 208.5,469.2 217.5,469.1 226.5,468.9 235.5,468.8 244.5,468.8 253.5,467.9 262.5,466.9 271.5,466.3 280.5,465.3 289.5,465.5 298.5,463.1 307.5,461.0 316.5,460.0 325.5,458.6 334.5,457.1 343.5,455.0 352.5,453.4 361.5,451.9 370.5,451.1 379.5,450.6 389.5,449.9 398.5,449.1 407.5,448.2 416.5,447.0 425.5,446.4 434.5,446.2 443.5,445.7 452.5,445.1 461.5,445.8 470.5,444.7 479.5,446.3 488.5,447.8 497.5,448.8 506.5,449.9 515.5,450.8 524.5,452.1 533.5,454.0 542.5,455.4 551.5,456.1 560.5,457.0 569.5,457.6 579.5,458.1 588.5,459.2 597.5,460.4 606.5,461.4 615.5,462.6 624.5,463.8 633.5,464.2 642.5,464.5 651.5,465.4 660.5,465.7 669.5,466.2 678.5,466.6 687.5,467.0 696.5,467.8 705.5,468.2 714.5,468.7 723.5,469.0 732.5,469.5 741.5,469.7 750.5,469.9 760.5,470.2 769.5,470.4 778.5,470.4 787.5,469.6 796.5,468.6 805.5,467.4 814.5,467.2 823.5,467.4 832.5,467.8 841.5,468.4 850.5,468.8 859.5,468.8 868.5,469.1 877.5,469.1 886.5,469.3 895.5,468.6 904.5,468.1 913.5,467.5 922.5,467.1 931.5,467.2" fill="none" stroke="#f000f0" stroke-width="1"/>
<polyline points="27.5,543.1 36.5,543.1 45.5,542.2 54.5,542.2 63.5,542.2 72.5,542.2 81.5,542.2 90.5,542.2 99.5,542.2 108.5,541.6 117.5,541.6 126.5,541.6 135.5,540.6 144.5,540.4 153.5,540.4 162.5,541.0 171.5,541.6 180.5,541.9 189.5,542.2 198.5,542.2 208.5,541.9 217.5,541.6 226.5,541.6 235.5,541.2 244.5,541.2 253.5,540.6 262.5,539.4 271.5,538.1 280.5,536.2 289.5,534.0 298.5,531.2 307.5,528.1 316.5,525.0 325.5,523.1 334.5,521.0 343.5,519.0 352.5,517.1 361.5,515.2 370.5,514.4 379.5,514.4 389.5,514.4 398.5,514.8 407.5,515.2 416.5,515.2 425.5,515.6 434.5,516.9 443.5,518.5 452.5,520.0 461.5,522.5 470.5,525.0 479.5,527.8 488.5,530.6 497.5,533.1 506.5,536.1 515.5,538.6 524.5,541.2 533.5,544.4 542.5,547.2 551.5,549.0 560.5,551.2 569.5,552.5 579.5,553.5 588.5,554.8 597.5,555.6 606.5,556.5 615.5,556.5 624.5,557.5 633.5,557.5 642.5,556.9 651.5,556.2 660.5,555.4 669.5,554.6 678.5,554.4 687.5,553.1 696.5,553.1 705.5,553.1 714.5,553.1 723.5,553.1 732.5,553.1 741.5,553.1 750.5,552.4 760.5,552.5 769.5,551.5 778.5,550.4 787.5,550.0 796.5,548.5 805.5,547.5 814.5,546.5 823.5,545.6 832.5,545.6 841.5,545.6 850.5,545.6 859.5,545.6 868.5,545.6 877.5,545.6 886.5,546.0 895.5,546.2 904.5,545.6 913.5,545.6 922.5,545.4 931.5,544.8" fill="none" stroke="#e8e83c" stroke-width="1"/>
<rect x="27" y="545" width="1" height="3" fill="#da0404"/>
<rect x="36" y="546" width="1" height="2" fill="#da0404"/>
<rect x="45" y="546" width="1" height="2" fill="#da0404"/>
<rect x="54" y="547" width="1" height="1" fill="#da0404"/>
<rect x="63" y="547" width="1" height="1" fill="#da0404"/>
<rect x="72" y="547" width="1" height="1" fill="#da0404"/>
<rect x="81" y="547" width="1" height="1" fill="#da0404"/>
<rect x="90" y="547" width="1" height="1" fill="#da0404"/>
<rect x="99" y="547" width="1" height="1" fill="#da0404"/>
<rect x="108" y="546" width="1" height="2" fill="#da0404"/>
<rect x="117" y="546" width="1" height="2" fill="#da0404"/>
<rect x="126" y="545" width="1" height="3" fill="#da0404"/>
<rect x="135" y="544" width="1" height="4" fill="#da0404"/>
<rect x="144" y="545" width="1" height="3" fill="#da0404"/>
<rect x="153" y="547" width="1" height="1" fill="#da0404"/>
<rect x="162" y="547" width="1" height="3" fill="#3ccccd"/>
<rect x="171" y="547" width="1" height="4" fill="#3ccccd"/>
<rect x="180" y="547" width="1" height="4" fill="#3ccccd"/>
<rect x="189" y="547" width="1" height="3" fill="#3ccccd"/>
<rect x="208" y="547" width="1" height="1" fill="#da0404"/>
<rect x="217" y="547" width="1" height="1" fill="#da0404"/>
<rect x="226" y="546" width="1" height="2" fill="#da0404"/>
<rect x="235" y="547" width="1" height="1" fill="#da0404"/>
<rect x="244" y="546" width="1" height="2" fill="#da0404"/>
<rect x="253" y="543" width="1" height="5" fill="#da0404"/>
<rect x="262" y="540" width="1" height="8" fill="#da0404"/>
<rect x="271" y="537" width="1" height="11" fill="#da0404"/>
<rect x="280" y="534" width="1" height="14" fill="#da0404"/>
<rect x="289" y="530" width="1" height="18" fill="#da0404"/>
<rect x="298" y="527" width="1" height="21" fill="#da0404"/>
<rect x="307" y="523" width="1" height="25" fill="#da0404"/>
<rect x="316" y="526" width="1" height="22" fill="#da0404"/>
<rect x="325" y="529" width="1" height="19" fill="#da0404"/>
<rect x="334" y="532" width="1" height="16" fill="#da0404"/>
<rect x="343" y="531" width="1" height="17" fill="#da0404"/>
<rect x="352" y="531" width="1" height="17" fill="#da0404"/>
<rect x="361" y="537" width="1" height="11" fill="#da0404"/>
<rect x="370" y="540" width="1" height="8" fill="#da0404"/>
<rect x="379" y="542" width="1" height="6" fill="#da0404"/>
<rect x="398" y="547" width="1" height="3" fill="#3ccccd"/>
<rect x="407" y="547" width="1" height="3" fill="#3ccccd"/>
<rect x="416" y="547" width="1" height="2" fill="#3ccccd"/>
<rect x="425" y="547" width="1" height="4" fill="#3ccccd"/>
<rect x="434" y="547" width="1" height="6" fill="#3ccccd"/>
<rect x="443" y="547" width="1" height="12" fill="#3ccccd"/>
<rect x="452" y="547" width="1" height="16" fill="#3ccccd"/>
<rect x="461" y="547" width="1" height="17" fill="#3ccccd"/>
<rect x="470" y="547" width="1" height="20" fill="#3ccccd"/>
<rect x="479" y="547" width="1" height="24" fill="#3ccccd"/>
<rect x="488" y="547" width="1" height="24" fill="#3ccccd"/>
<rect x="497" y="547" width="1" height="23" fill="#3ccccd"/>
<rect x="506" y="547" width="1" height="21" fill="#3ccccd"/>
<rect x="515" y="547" width="1" height="21" fill="#3ccccd"/>
<rect x="524" y="547" width="1" height="22" fill="#3ccccd"/>
<rect x="533" y="547" width="1" height="22" fill="#3ccccd"/>
<rect x="542" y="547" width="1" height="21" fill="#3ccccd"/>
<rect x="551" y="547" width="1" height="18" fill="#3ccccd"/>
<rect x="560" y="547" width="1" height="16" fill="#3ccccd"/>
<rect x="569" y="547" width="1" height="12" fill="#3ccccd"/>
<rect x="579" y="547" width="1" height="10" fill="#3ccccd"/>
<rect x="588" y="547" width="1" height="7" fill="#3ccccd"/>
<rect x="597" y="547" width="1" height="7" fill="#3ccccd"/>
<rect x="606" y="547" width="1" height="6" fill="#3ccccd"/>
<rect x="615" y="547" width="1" height="4" fill="#3ccccd"/>
<rect x="624" y="547" width="1" height="4" fill="#3ccccd"/>
<rect x="633" y="547" width="1" height="1" fill="#3ccccd"/>
<rect x="642" y="547" width="1" height="1" fill="#da0404"/>
<rect x="651" y="544" width="1" height="4" fill="#da0404"/>
<rect x="660" y="541" width="1" height="7" fill="#da0404"/>
<rect x="669" y="540" width="1" height="8" fill="#da0404"/>
<rect x="678" y="541" width="1" height="7" fill="#da0404"/>
<rect x="687" y="544" width="1" height="4" fill="#da0404"/>
<rect x="696" y="546" width="1" height="2" fill="#da0404"/>
<rect x="714" y="547" width="1" height="1" fill="#3ccccd"/>
<rect x="732" y="546" width="1" height="2" fill="#da0404"/>
<rect x="741" y="546" width="1" height="2" fill="#da0404"/>
<rect x="750" y="544" width="1" height="4" fill="#da0404"/>
<rect x="760" y="544" width="1" height="4" fill="#da0404"/>
<rect x="769" y="544" width="1" height="4" fill="#da0404"/>
<rect x="778" y="543" width="1" height="5" fill="#da0404"/>
<rect x="787" y="541" width="1" height="7" fill="#da0404"/>
<rect x="796" y="537" width="1" height="11" fill="#da0404"/>
<rect x="805" y="538" width="1" height="10" fill="#da0404"/>
<rect x="814" y="540" width="1" height="8" fill="#da0404"/>
<rect x="823" y="542" width="1" height="6" fill="#da0404"/>
<rect x="832" y="545" width="1" height="3" fill="#da0404"/>
<rect x="841" y="547" width="1" height="1" fill="#da0404"/>
<rect x="850" y="547" width="1" height="1" fill="#3ccccd"/>
<rect x="868" y="547" width="1" height="1" fill="#3ccccd"/>
<rect x="877" y="547" width="1" height="2" fill="#3ccccd"/>
<rect x="886" y="547" width="1" height="2" fill="#3ccccd"/>
<rect x="895" y="547" width="1" height="1" fill="#3ccccd"/>
<rect x="904" y="547" width="1" height="1" fill="#da0404"/>
<rect x="913" y="545" width="1" height="3" fill="#da0404"/>
<rect x="922" y="545" width="1" height="3" fill="#da0404"/>
<rect x="931" y="543" width="1" height="5" fill="#da0404"/>
<polyline points="27.5,541.5 36.5,541.5 45.5,541.5 54.5,541.5 63.5,541.5 72.5,541.5 81.5,541.5 90.5,541.5 99.5,541.5 108.5,540.6 117.5,540.6 126.5,539.4 135.5,539.4 144.5,538.3 153.5,539.4 162.5,541.9 171.5,543.1 180.5,543.1 189.5,543.1 198.5,542.2 208.5,541.6 217.5,541.6 226.5,541.0 235.5,541.0 244.5,540.6 253.5,538.5 262.5,536.0 271.5,532.2 280.5,528.8 289.5,525.0 298.5,520.6 307.5,516.5 316.5,515.0 325.5,513.1 334.5,513.1 343.5,510.6 352.5,509.1 361.5,510.2 370.5,511.0 379.5,511.5 389.5,514.4 398.5,515.6 407.5,516.2 416.5,516.5 425.5,517.9 434.5,520.0 443.5,523.8 452.5,527.5 461.5,530.4 470.5,534.4 479.5,538.8 488.5,543.1 497.5,544.4 506.5,546.2 515.5,549.0 524.5,552.2 533.5,555.0 542.5,557.5 551.5,558.5 560.5,559.4 569.5,558.5 579.5,558.5 588.5,558.5 597.5,559.4 606.5,559.4 615.5,559.4 624.5,559.4 633.5,557.5 642.5,556.2 651.5,554.4 660.5,552.5 669.5,551.5 678.5,550.2 687.5,551.2 696.5,552.5 705.5,553.1 714.5,554.4 723.5,553.5 732.5,552.5 741.5,551.5 750.5,550.2 760.5,550.2 769.5,549.4 778.5,548.5 787.5,546.2 796.5,543.5 805.5,542.2 814.5,542.2 823.5,542.2 832.5,543.5 841.5,544.8 850.5,545.6 859.5,545.6 868.5,545.6 877.5,546.2 886.5,547.5 895.5,546.5 904.5,545.6 913.5,544.4 922.5,543.5 931.5,542.2" fill="none" stroke="#e8e8e8" stroke-width="1"/>
<polygon points="942,45 956,45 949,57" fill="#9a9a9a" shape-rendering="geometricPrecision"/>
<g shape-rendering="geometricPrecision"><rect x="960" y="48" width="10" height="8" fill="#f2b63a"/><rect x="964.2" y="50" width="1.7" height="4" fill="#4a3a18"/><path d="M969.6 48V45.9a2.55 2.55 0 0 1 5.1 0V47" fill="none" stroke="#f2b63a" stroke-width="1"/></g>
<circle cx="807" cy="3.6" r="3.1" fill="#f0202c" shape-rendering="geometricPrecision"/>
<polygon points="1029,5 1034.3,9.2 1029,13.3" fill="#d8d8d8" shape-rendering="geometricPrecision"/>
<g shape-rendering="geometricPrecision" stroke="#d8d8d8" stroke-width="1" fill="none"><path d="M352.5 72.5L367 75.6M355.8 69L352.5 72.5L355.2 75.8"/><path d="M171.5 336.5H186M175.3 333L171.5 336.5L175.3 340.2"/></g>
<rect x="25.5" y="409.5" width="13" height="13" fill="none" stroke="#636569"/>
<rect x="25.5" y="493.5" width="13" height="13" fill="none" stroke="#636569"/>
<rect x="25" y="579" width="70" height="20" fill="#28292f"/>
<rect x="96" y="579" width="73" height="20" fill="#28292f"/>
<rect x="170" y="579" width="65" height="20" fill="#28292f"/>
<rect x="236" y="579" width="64" height="20" fill="#28292f"/>
<rect x="301" y="579" width="74" height="20" fill="#b8161a"/>
<rect x="376" y="579" width="64" height="20" fill="#28292f"/>
<rect x="441" y="579" width="64" height="20" fill="#28292f"/>
<rect x="506" y="579" width="65" height="20" fill="#28292f"/>
<rect x="572" y="579" width="25" height="20" fill="#28292f"/>
<rect x="576.5" y="581.5" width="16" height="16" rx="1" fill="none" stroke="#a0a0a0" shape-rendering="geometricPrecision"/>
<rect x="579" y="589" width="11" height="1" fill="#b0b0b0"/>
<rect x="584" y="584" width="1" height="11" fill="#b0b0b0"/>
<rect x="763" y="56" width="178" height="1" fill="#f0f0f0"/>
</svg>
<span class="t" style="left:29.71px;top:3.92px;font-size:13.33px;color:#f0f0f0;">分时</span>
<span class="t" style="left:71.64px;top:3.92px;font-size:13.33px;color:#f0f0f0;">多日</span>
<span class="t" style="left:113.99px;top:3.01px;font-size:14.4px;color:#f0f0f0;">1</span>
<span class="t" style="left:121.70px;top:3.92px;font-size:13.33px;color:#f0f0f0;">分</span>
<span class="t" style="left:151.11px;top:3.01px;font-size:14.4px;color:#f0f0f0;">5</span>
<span class="t" style="left:158.95px;top:3.92px;font-size:13.33px;color:#f0f0f0;">分</span>
<span class="t" style="left:189.27px;top:3.01px;font-size:14.4px;color:#f0f0f0;transform:scaleX(0.8600);transform-origin:0 0;">15</span>
<span class="t" style="left:203.45px;top:3.92px;font-size:13.33px;color:#f0f0f0;">分</span>
<span class="t" style="left:233.36px;top:3.01px;font-size:14.4px;color:#f0f0f0;transform:scaleX(0.9496);transform-origin:0 0;">30</span>
<span class="t" style="left:249.00px;top:3.92px;font-size:13.33px;color:#f0f0f0;">分</span>
<span class="t" style="left:278.44px;top:3.01px;font-size:14.4px;color:#f0f0f0;transform:scaleX(0.9382);transform-origin:0 0;">60</span>
<span class="t" style="left:293.95px;top:3.92px;font-size:13.33px;color:#f0f0f0;">分</span>
<span class="t" style="left:322.73px;top:3.92px;font-size:13.33px;color:#ffffff;">日</span>
<span class="t" style="left:352.36px;top:3.92px;font-size:13.33px;color:#f0f0f0;">周</span>
<span class="t" style="left:381.73px;top:3.92px;font-size:13.33px;color:#f0f0f0;">月</span>
<span class="t" style="left:410.17px;top:3.92px;font-size:13.33px;color:#f0f0f0;">更多</span>
<span class="t" style="left:698.59px;top:3.92px;font-size:13.33px;color:#f0f0f0;">前复权</span>
<span class="t" style="left:751.64px;top:3.92px;font-size:13.33px;color:#f0f0f0;">超级叠加</span>
<span class="t" style="left:822.00px;top:3.92px;font-size:13.33px;color:#f0f0f0;">画线</span>
<span class="t" style="left:867.51px;top:3.92px;font-size:13.33px;color:#f0f0f0;">工具</span>
<span class="t" style="left:913.03px;top:3.92px;font-size:13.33px;color:#f0f0f0;">帮助</span>
<span class="t" style="left:963.27px;top:3.01px;font-size:14.4px;color:#f0f0f0;transform:scaleX(0.8276);transform-origin:0 0;">F9</span>
<span class="t" style="left:1001.82px;top:3.92px;font-size:13.33px;color:#f0f0f0;">隐藏</span>
<span class="t" style="left:25.22px;top:23.81px;font-size:14.4px;color:#f0f0f0;letter-spacing:0.400px;">2020/06/05</span>
<span class="t" style="left:112.17px;top:24.72px;font-size:13.33px;color:#f0f0f0;">收</span>
<span class="t" style="left:128.70px;top:23.81px;font-size:14.4px;color:#f42c38;transform:scaleX(0.9363);transform-origin:0 0;">10.77</span>
<span class="t" style="left:173.97px;top:24.72px;font-size:13.33px;color:#f0f0f0;">幅</span>
<span class="t" style="left:190.69px;top:23.81px;font-size:14.4px;color:#f42c38;transform:scaleX(0.9411);transform-origin:0 0;">7.38%(0.74)</span>
<span class="t" style="left:274.33px;top:24.72px;font-size:13.33px;color:#f0f0f0;">开</span>
<span class="t" style="left:291.19px;top:23.81px;font-size:14.4px;color:#f0f0f0;transform:scaleX(0.9494);transform-origin:0 0;">10.03</span>
<span class="t" style="left:336.86px;top:24.72px;font-size:13.33px;color:#f0f0f0;">高</span>
<span class="t" style="left:353.44px;top:23.81px;font-size:14.4px;color:#f42c38;transform:scaleX(0.9566);transform-origin:0 0;">10.98</span>
<span class="t" style="left:399.16px;top:24.72px;font-size:13.33px;color:#f0f0f0;">低</span>
<span class="t" style="left:414.96px;top:23.81px;font-size:14.4px;color:#1eb450;transform:scaleX(0.9526);transform-origin:0 0;">9.99</span>
<span class="t" style="left:453.07px;top:24.72px;font-size:13.33px;color:#f0f0f0;">均</span>
<span class="t" style="left:469.19px;top:23.81px;font-size:14.4px;color:#f42c38;transform:scaleX(0.9548);transform-origin:0 0;">10.45</span>
<span class="t" style="left:514.82px;top:24.72px;font-size:13.33px;color:#f0f0f0;">量</span>
<span class="t" style="left:531.34px;top:23.81px;font-size:14.4px;color:#f0f0f0;transform:scaleX(0.9170);transform-origin:0 0;">58.38</span>
<span class="t" style="left:564.76px;top:24.72px;font-size:13.33px;color:#f0f0f0;">万</span>
<span class="t" style="left:589.80px;top:24.72px;font-size:13.33px;color:#f0f0f0;">换</span>
<span class="t" style="left:606.97px;top:23.81px;font-size:14.4px;color:#f0f0f0;transform:scaleX(0.9258);transform-origin:0 0;">3.72%</span>
<span class="t" style="left:655.82px;top:24.72px;font-size:13.33px;color:#f0f0f0;">振</span>
<span class="t" style="left:672.47px;top:23.81px;font-size:14.4px;color:#f0f0f0;transform:scaleX(0.9383);transform-origin:0 0;">9.87%</span>
<span class="t" style="left:721.39px;top:24.72px;font-size:13.33px;color:#f0f0f0;">额</span>
<span class="t" style="left:737.68px;top:23.81px;font-size:14.4px;color:#f0f0f0;transform:scaleX(0.9490);transform-origin:0 0;">6.10</span>
<span class="t" style="left:764.79px;top:24.72px;font-size:13.33px;color:#f0f0f0;">亿</span>
<span class="t" style="left:23.36px;top:44.83px;font-size:12.96px;color:#f0f0f0;transform:scaleX(0.9220);transform-origin:0 0;">000158.SZ</span>
<span class="t" style="left:87.26px;top:44.83px;font-size:12.96px;color:#f0f0f0;">[</span>
<span class="t" style="left:91.47px;top:45.14px;font-size:12px;color:#f0f0f0;letter-spacing:0.2px;">常山北明</span>
<span class="t" style="left:140.16px;top:44.83px;font-size:12.96px;color:#f0f0f0;">]</span>
<span class="t" style="left:147.56px;top:45.14px;font-size:12px;color:#f01414;letter-spacing:0.7px;">日线</span>
<span class="t" style="left:762.97px;top:44.73px;font-size:12.96px;color:#f0f0f0;letter-spacing:0.126px;">2020/01/03-2020/06/05(101</span>
<span class="t" style="left:925.10px;top:45.14px;font-size:12px;color:#f0f0f0;">日</span>
<span class="t" style="left:936.67px;top:44.73px;font-size:12.96px;color:#f0f0f0;">)</span>
<span class="t" style="left:980.26px;top:52.71px;font-size:14.4px;color:#d8d8d8;transform:scaleX(0.8743);transform-origin:0 0;">15.00</span>
<span class="t" style="left:980.26px;top:83.71px;font-size:14.4px;color:#d8d8d8;transform:scaleX(0.8743);transform-origin:0 0;">14.00</span>
<span class="t" style="left:980.26px;top:113.71px;font-size:14.4px;color:#d8d8d8;transform:scaleX(0.8743);transform-origin:0 0;">13.00</span>
<span class="t" style="left:980.26px;top:144.71px;font-size:14.4px;color:#d8d8d8;transform:scaleX(0.8743);transform-origin:0 0;">12.00</span>
<span class="t" style="left:980.23px;top:175.71px;font-size:14.4px;color:#d8d8d8;transform:scaleX(0.9001);transform-origin:0 0;">11.00</span>
<span class="t" style="left:980.26px;top:205.71px;font-size:14.4px;color:#d8d8d8;transform:scaleX(0.8743);transform-origin:0 0;">10.00</span>
<span class="t" style="left:980.50px;top:236.71px;font-size:14.4px;color:#d8d8d8;transform:scaleX(0.8724);transform-origin:0 0;">9.00</span>
<span class="t" style="left:980.54px;top:267.71px;font-size:14.4px;color:#d8d8d8;transform:scaleX(0.8712);transform-origin:0 0;">8.00</span>
<span class="t" style="left:980.48px;top:297.71px;font-size:14.4px;color:#d8d8d8;transform:scaleX(0.8734);transform-origin:0 0;">7.00</span>
<span class="t" style="left:980.48px;top:328.71px;font-size:14.4px;color:#d8d8d8;transform:scaleX(0.8734);transform-origin:0 0;">6.00</span>
<span class="t" style="left:980.53px;top:418.71px;font-size:14.4px;color:#d8d8d8;transform:scaleX(0.8151);transform-origin:0 0;">254</span>
<span class="t" style="left:1000.14px;top:420.12px;font-size:13.33px;color:#d8d8d8;">万</span>
<span class="t" style="left:980.29px;top:448.71px;font-size:14.4px;color:#d8d8d8;transform:scaleX(0.8366);transform-origin:0 0;">127</span>
<span class="t" style="left:1000.14px;top:450.12px;font-size:13.33px;color:#d8d8d8;">万</span>
<span class="t" style="left:980.26px;top:501.91px;font-size:14.4px;color:#d8d8d8;transform:scaleX(0.8719);transform-origin:0 0;">1.56269</span>
<span class="t" style="left:980.65px;top:532.91px;font-size:14.4px;color:#d8d8d8;transform:scaleX(0.8691);transform-origin:0 0;">0.26908</span>
<span class="t" style="left:29.11px;top:388.11px;font-size:14.4px;color:#d0d0d0;transform:scaleX(0.8543);transform-origin:0 0;">20.01</span>
<span class="t" style="left:164.11px;top:388.11px;font-size:14.4px;color:#d0d0d0;transform:scaleX(0.8547);transform-origin:0 0;">20.02</span>
<span class="t" style="left:345.11px;top:388.11px;font-size:14.4px;color:#d0d0d0;transform:scaleX(0.8534);transform-origin:0 0;">20.03</span>
<span class="t" style="left:544.11px;top:388.11px;font-size:14.4px;color:#d0d0d0;transform:scaleX(0.8468);transform-origin:0 0;">20.04</span>
<span class="t" style="left:734.11px;top:388.11px;font-size:14.4px;color:#d0d0d0;transform:scaleX(0.8519);transform-origin:0 0;">20.05</span>
<span class="t" style="left:897.11px;top:388.11px;font-size:14.4px;color:#d0d0d0;transform:scaleX(0.8527);transform-origin:0 0;">20.06</span>
<span class="t" style="left:366.75px;top:69.81px;font-size:14.4px;color:#f42c38;transform:scaleX(0.8777);transform-origin:0 0;">14.59</span>
<span class="t" style="left:186.30px;top:328.81px;font-size:14.4px;color:#1eb450;transform:scaleX(0.8369);transform-origin:0 0;">5.99</span>
<span class="t" style="left:66.93px;top:353.09px;font-size:8.4px;color:#f02835;font-weight:bold;">R</span>
<span class="t" style="left:292.93px;top:353.09px;font-size:8.4px;color:#f02835;font-weight:bold;">R</span>
<span class="t" style="left:509.93px;top:353.09px;font-size:8.4px;color:#f02835;font-weight:bold;">R</span>
<span class="t" style="left:518.93px;top:353.09px;font-size:8.4px;color:#f02835;font-weight:bold;">R</span>
<span class="t" style="left:536.93px;top:353.09px;font-size:8.4px;color:#f02835;font-weight:bold;">R</span>
<span class="t" style="left:554.93px;top:353.09px;font-size:8.4px;color:#f02835;font-weight:bold;">R</span>
<span class="t" style="left:627.93px;top:353.09px;font-size:8.4px;color:#f02835;font-weight:bold;">R</span>
<span class="t" style="left:744.93px;top:353.09px;font-size:8.4px;color:#f02835;font-weight:bold;">R</span>
<span class="t" style="left:817.93px;top:353.09px;font-size:8.4px;color:#f02835;font-weight:bold;">R</span>
<span class="t" style="left:835.93px;top:353.09px;font-size:8.4px;color:#f02835;font-weight:bold;">R</span>
<span class="t" style="left:28.60px;top:409.91px;font-size:14.4px;color:#f0f0f0;">?</span>
<span class="t" style="left:42.43px;top:410.11px;font-size:14.4px;color:#f0f0f0;transform:scaleX(0.8415);transform-origin:0 0;">VOL(5,10,20)</span>
<span class="t" style="left:124.43px;top:410.11px;font-size:14.4px;color:#f0f0f0;transform:scaleX(0.8127);transform-origin:0 0;">VOL:58.38</span>
<span class="t" style="left:180.26px;top:411.02px;font-size:13.33px;color:#f0f0f0;">万</span>
<span class="t" style="left:203.68px;top:410.11px;font-size:14.4px;color:#f0f0f0;transform:scaleX(0.8313);transform-origin:0 0;">VMA5:84.14</span>
<span class="t" style="left:269.76px;top:411.02px;font-size:13.33px;color:#f0f0f0;">万</span>
<span class="t" style="left:293.68px;top:410.11px;font-size:14.4px;color:#e8e83c;transform:scaleX(0.8442);transform-origin:0 0;">VMA10:64.87</span>
<span class="t" style="left:367.26px;top:411.02px;font-size:13.33px;color:#e8e83c;">万</span>
<span class="t" style="left:391.18px;top:410.11px;font-size:14.4px;color:#f000f0;transform:scaleX(0.8410);transform-origin:0 0;">VMA20:77.04</span>
<span class="t" style="left:464.76px;top:411.02px;font-size:13.33px;color:#f000f0;">万</span>
<span class="t" style="left:28.60px;top:493.91px;font-size:14.4px;color:#f0f0f0;">?</span>
<span class="t" style="left:41.64px;top:494.11px;font-size:14.4px;color:#f0f0f0;transform:scaleX(0.8638);transform-origin:0 0;">MACD(12,26,9)</span>
<span class="t" style="left:136.65px;top:494.11px;font-size:14.4px;color:#f0f0f0;transform:scaleX(0.8503);transform-origin:0 0;">DIF:0.18036</span>
<span class="t" style="left:212.91px;top:494.11px;font-size:14.4px;color:#e8e83c;transform:scaleX(0.8374);transform-origin:0 0;">DEA:0.07665</span>
<span class="t" style="left:293.64px;top:494.11px;font-size:14.4px;color:#f000f0;transform:scaleX(0.8622);transform-origin:0 0;">MACD:0.20741</span>
<span class="t" style="left:30.57px;top:583.22px;font-size:13.33px;color:#f0f0f0;">市盈率</span>
<span class="t" style="left:103.82px;top:583.22px;font-size:13.33px;color:#f0f0f0;">市净率</span>
<span class="t" style="left:176.62px;top:582.31px;font-size:14.4px;color:#f0f0f0;transform:scaleX(0.8788);transform-origin:0 0;">BOLL</span>
<span class="t" style="left:243.38px;top:582.31px;font-size:14.4px;color:#f0f0f0;transform:scaleX(0.8660);transform-origin:0 0;">KDJ</span>
<span class="t" style="left:308.27px;top:582.31px;font-size:14.4px;color:#ffffff;transform:scaleX(0.9822);transform-origin:0 0;">MACD</span>
<span class="t" style="left:383.36px;top:582.31px;font-size:14.4px;color:#f0f0f0;transform:scaleX(0.8872);transform-origin:0 0;">RSI</span>
<span class="t" style="left:448.83px;top:582.31px;font-size:14.4px;color:#f0f0f0;transform:scaleX(0.8618);transform-origin:0 0;">SAR</span>
<span class="t" style="left:514.49px;top:582.31px;font-size:14.4px;color:#f0f0f0;transform:scaleX(0.9421);transform-origin:0 0;">W&amp;R</span>
<span class="t" style="left:4.30px;top:30.62px;font-size:13.33px;color:#f0f0f0;">分</span>
<span class="t" style="left:4.05px;top:49.12px;font-size:13.33px;color:#f0f0f0;">时</span>
<span class="t" style="left:4.33px;top:67.12px;font-size:13.33px;color:#f0f0f0;">图</span>
<span class="t" style="left:5.87px;top:102.61px;font-size:14.4px;color:#ffffff;">K</span>
<span class="t" style="left:4.27px;top:122.62px;font-size:13.33px;color:#ffffff;">线</span>
<span class="t" style="left:4.33px;top:141.62px;font-size:13.33px;color:#ffffff;">图</span>
<span class="t" style="left:7.10px;top:175.61px;font-size:14.4px;color:#f0f0f0;">T</span>
<span class="t" style="left:8.30px;top:195.11px;font-size:14.4px;color:#f0f0f0;">I</span>
<span class="t" style="left:5.89px;top:213.61px;font-size:14.4px;color:#f0f0f0;">C</span>
<span class="t" style="left:5.87px;top:232.61px;font-size:14.4px;color:#f0f0f0;">K</span>
<span class="t" style="left:4.37px;top:268.62px;font-size:13.33px;color:#f0f0f0;">成</span>
<span class="t" style="left:4.30px;top:287.62px;font-size:13.33px;color:#f0f0f0;">交</span>
<span class="t" style="left:4.28px;top:306.62px;font-size:13.33px;color:#f0f0f0;">明</span>
<span class="t" style="left:4.58px;top:325.62px;font-size:13.33px;color:#f0f0f0;">细</span>
<span class="t" style="left:4.30px;top:360.62px;font-size:13.33px;color:#f0f0f0;">分</span>
<span class="t" style="left:4.29px;top:379.62px;font-size:13.33px;color:#f0f0f0;">价</span>
<span class="t" style="left:4.32px;top:398.62px;font-size:13.33px;color:#f0f0f0;">表</span>
<span class="t" style="left:4.40px;top:433.62px;font-size:13.33px;color:#f0f0f0;">深</span>
<span class="t" style="left:4.34px;top:453.12px;font-size:13.33px;color:#f0f0f0;">度</span>
<span class="t" style="left:4.35px;top:471.62px;font-size:13.33px;color:#f0f0f0;">资</span>
<span class="t" style="left:4.35px;top:490.62px;font-size:13.33px;color:#f0f0f0;">料</span>
<span class="t" style="left:4.35px;top:525.62px;font-size:13.33px;color:#f0f0f0;">超</span>
<span class="t" style="left:4.35px;top:545.12px;font-size:13.33px;color:#f0f0f0;">级</span>
<span class="t" style="left:4.36px;top:564.62px;font-size:13.33px;color:#f0f0f0;">复</span>
<span class="t" style="left:4.33px;top:583.62px;font-size:13.33px;color:#f0f0f0;">盘</span>
<svg class="g" style="left:965px;top:573px" width="18" height="19" viewBox="0 0 18 19"><path d="M2 0H16Q18 0 18 2V6.5H13.8V4.2H4.2V13.8H11.5V11.8L7 7.3L18 8.4V18.9L13.8 14H11.7V18H2Q0 18 0 16V2Q0 0 2 0Z" fill="#d0d0d0"/></svg>
<span class="t" style="left:986.99px;top:574.64px;font-size:16.6px;font-weight:bold;color:#b2b2b2;transform:scaleX(0.88);transform-origin:0 0;">格隆汇</span>
</body></html>
